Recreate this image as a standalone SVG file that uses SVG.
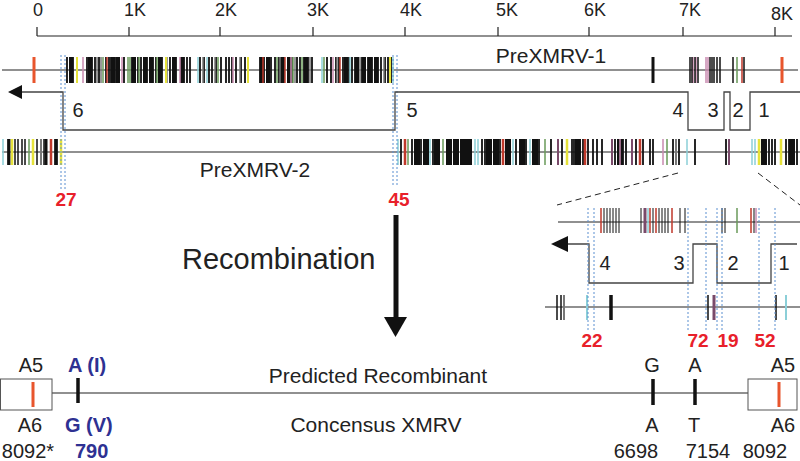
<svg xmlns="http://www.w3.org/2000/svg" width="800" height="461" viewBox="0 0 800 461">
<style>
text{font-family:"Liberation Sans",Arial,sans-serif;fill:#222}
.ax{font-size:18px;text-anchor:middle}
.nm{font-size:21px;text-anchor:middle}
.st{font-size:20px;text-anchor:middle}
.red{font-size:19px;font-weight:bold;fill:#e8202a;text-anchor:middle}
.blue{font-size:20px;font-weight:bold;fill:#2e3192}
.lo{font-size:20px;text-anchor:middle}
.ln{stroke:#222;stroke-width:1.2;fill:none}
.path{stroke:#444;stroke-width:1.3;fill:none}
.dot{stroke:#5b8fd0;stroke-width:1;stroke-dasharray:2 2;fill:none}
.dash{stroke:#222;stroke-width:1;stroke-dasharray:6 4;fill:none}
.k{stroke:#111;fill:none}
.g{stroke:#777;fill:none}
.gr{stroke:#6a9a5a;fill:none}
.pk{stroke:#c98bb0;fill:none}
.y{stroke:#e6e23a;fill:none}
.c{stroke:#8ccfd8;fill:none}
.r{stroke:#c0392b;fill:none}
.pu{stroke:#7a4a6a;fill:none}
.or{stroke:#e8552d;stroke-width:3;fill:none}
.box{stroke:#555;stroke-width:1;fill:none}
</style>

<g id="axis">
<path class="ln" d="M37 36H792M37 27V36M129 27V36M220 27V36M313 27V36M405 27V36M498 27V36M589 27V36M683 27V36M775 27V36"/>
<text class="ax" x="38" y="16">0</text>
<text class="ax" x="135" y="16">1K</text>
<text class="ax" x="226" y="16">2K</text>
<text class="ax" x="318" y="16">3K</text>
<text class="ax" x="411" y="16">4K</text>
<text class="ax" x="507" y="16">5K</text>
<text class="ax" x="595" y="16">6K</text>
<text class="ax" x="690" y="16">7K</text>
<text class="ax" x="782" y="20">8K</text>
</g>

<g id="prexmrv1">
<path class="ln" d="M2 70H798"/>
<path class="k" stroke-width="1.8" d="M67 57v26M70 57v26M73 57v26M87 57v26M90 57v26M92 57v26M95 57v26M99 57v26M106 57v26M109 57v26M111 57v26M114 57v26M116 57v26M119 57v26M124 57v26M132 57v26M135 57v26M138 57v26M141 57v26M144 57v26M147 57v26M150 57v26M153 57v26M156 57v26M159 57v26M162 57v26M170 57v26M173 57v26M176 57v26M184 57v26M187 57v26M190 57v26M200 57v26M204 57v26M209 57v26M212 57v26M216 57v26M221 57v26M226 57v26M229 57v26M232 57v26M236 57v26M241 57v26M245 57v26M260 57v26M264 57v26M267 57v26M271 57v26M275 57v26M279 57v26M284 57v26M288 57v26M292 57v26M297 57v26M300 57v26M304 57v26M308 57v26M312 57v26M327 57v26M331 57v26M336 57v26M339 57v26M343 57v26M346 57v26M349 57v26M352 57v26M355 57v26M358 57v26M362 57v26M365 57v26M368 57v26M372 57v26M375 57v26M378 57v26M381 57v26M385 57v26M388 57v26M391 57v26"/>
<path class="k" stroke-width="4" d="M71 57v26M90 57v26M113 57v26M118 57v26M134 57v26M145 57v26M151 57v26M160 57v26M174 57v26M182 57v26M262 57v26M268 57v26M282 57v26M289 57v26M306 57v26M346 57v26M357 57v26M364 57v26M370 57v26M376 57v26"/>
<path class="k" stroke-width="3" d="M653 57v26"/>
<path class="g" stroke-width="1.5" d="M97 57v26M101 57v26M167 57v26M203 57v26M215 57v26M240 57v26M280 57v26M295 57v26M310 57v26M337 57v26M360 57v26M384 57v26"/>
<path class="gr" stroke-width="1.5" d="M103 57v26M128 57v26M130 57v26M139 57v26M157 57v26M218 57v26M277 57v26M293 57v26M302 57v26M324 57v26M737 57v26"/>
<path class="pk" stroke-width="1.5" d="M83 57v26M122 57v26M180 57v26M233 57v26M291 57v26M333 57v26M693 57v26M696 57v26M706 57v26M708 57v26"/>
<path class="y" stroke-width="2" d="M77 57v26M166 57v26M248 57v26M390 57v26"/>
<path class="c" stroke-width="1.5" d="M198 57v26M207 57v26M322 57v26M350 57v26M393 57v26"/>
<path class="r" stroke-width="1.5" d="M107 57v26M263 57v26M285 57v26M340 57v26M742 57v26"/>
<path class="k" stroke-width="1.5" d="M690 57v26M692 57v26M695 57v26M698 57v26M710 57v26M712 57v26M714 57v26M717 57v26M720 57v26M733 57v26M744 57v26"/>
<path class="or" d="M34 57v26M782 57v26"/>
<text class="nm" x="551" y="63">PreXMRV-1</text>
</g>

<g id="prexmrv2">
<path class="ln" d="M2 152H800"/>
<path class="k" stroke-width="1.5" d="M8 139v26M15 139v26M18 139v26M22 139v26M25 139v26M37 139v26M44 139v26M55 139v26M57 139v26"/>
<path class="k" stroke-width="3" d="M9 139v26M46 139v26M56 139v26"/>
<path class="k" stroke-width="1.8" d="M401 139v26M412 139v26M415 139v26M418 139v26M421 139v26M424 139v26M427 139v26M433 139v26M436 139v26M439 139v26M482 139v26M485 139v26M488 139v26M491 139v26M494 139v26M497 139v26M500 139v26M506 139v26M509 139v26M516 139v26M520 139v26M523 139v26M526 139v26M533 139v26M536 139v26M539 139v26M551 139v26M562 139v26M572 139v26M574 139v26M577 139v26M580 139v26M583 139v26M588 139v26M593 139v26M597 139v26M602 139v26M615 139v26M618 139v26M623 139v26M626 139v26M636 139v26M643 139v26M650 139v26M653 139v26M673 139v26M679 139v26M695 139v26M726 139v26M763 139v26M766 139v26M769 139v26M772 139v26M775 139v26M786 139v26M789 139v26M793 139v26M797 139v26"/>
<path class="k" stroke-width="6" d="M417 139v26M426 139v26M437 139v26M449 139v26M456 139v26M463 139v26M469 139v26M489 139v26M496 139v26M508 139v26M522 139v26M535 139v26M578 139v26M620 139v26M764 139v26M792 139v26"/>
<path class="c" stroke-width="1.5" d="M3 139v26M398 139v26M430 139v26M475 139v26M478 139v26M513 139v26M530 139v26M687 139v26M752 139v26M755 139v26"/>
<path class="y" stroke-width="2.5" d="M12 139v26M33 139v26M61 139v26M567 139v26M759 139v26M781 139v26"/>
<path class="g" stroke-width="2" d="M41 139v26M676 139v26"/>
<path class="r" stroke-width="2.5" d="M51 139v26M405 139v26M503 139v26M585 139v26M640 139v26"/>
<path class="gr" stroke-width="1.5" d="M29 139v26M408 139v26M443 139v26M545 139v26M667 139v26"/>
<path class="pu" stroke-width="2" d="M558 139v26M612 139v26M632 139v26M729 139v26"/>
<path class="pk" stroke-width="1.5" d="M620 139v26M663 139v26"/>
<text class="nm" x="255" y="177">PreXMRV-2</text>
</g>

<g id="breakpoints">
<path class="dot" d="M61 55V190M65 55V190M393 55V187M397 55V187"/>
<text class="red" x="66" y="206">27</text>
<text class="red" x="399" y="206">45</text>
</g>

<g id="recombination-path">
<path class="path" d="M22 92H63V130H395V92H688V130H724V92H730V130H750V92H800"/>
<path d="M8 92L22 85V99z" fill="#111"/>
<text class="st" x="78" y="117">6</text>
<text class="st" x="412" y="117">5</text>
<text class="st" x="678" y="117">4</text>
<text class="st" x="713" y="117">3</text>
<text class="st" x="738" y="117">2</text>
<text class="st" x="764" y="117">1</text>
</g>

<g id="zoom-lines">
<path class="dash" d="M678 173L557 205M758 173L800 205"/>
</g>

<g id="inset">
<path class="ln" d="M558 222H800M545 307H800"/>
<path class="r" stroke-width="1.5" d="M601 208v25M650 208v25M656 208v25M672 208v25M751 208v25"/>
<path class="k" stroke-width="1" d="M604 208v25M607 208v25M610 208v25M613 208v25M616 208v25M619 208v25M641 208v25M653 208v25M659 208v25M662 208v25M665 208v25M668 208v25M680 208v25M685 208v25M722 208v25M725 208v25M754 208v25"/>
<path class="pu" stroke-width="3" d="M645 208v25"/>
<path class="c" stroke-width="1.5" d="M648 208v25"/>
<path class="gr" stroke-width="1.5" d="M737 208v25"/>
<path class="pk" stroke-width="1.5" d="M756 208v25"/>
<path class="k" stroke-width="1.5" d="M557 295v25M561 295v25M708 295v25M776 295v25"/>
<path class="g" stroke-width="2" d="M564 295v25"/>
<path class="c" stroke-width="2" d="M587 295v25M786 295v25"/>
<path class="k" stroke-width="3.5" d="M611 295v25"/>
<path class="pu" stroke-width="3" d="M714 295v25"/>
<path class="path" d="M568 244H589V283H693V244H717V283H771V244H797"/>
<path d="M551 244L568 236V252z" fill="#111"/>
<path class="dot" d="M588 208V330M594 208V330M688 208V330M706 208V330M717 208V330M722 208V330M759 208V330M775 208V330"/>
<text class="st" x="605" y="270">4</text>
<text class="st" x="679" y="270">3</text>
<text class="st" x="733" y="270">2</text>
<text class="st" x="784" y="270">1</text>
<text class="red" x="592" y="347">22</text>
<text class="red" x="698" y="347">72</text>
<text class="red" x="728" y="347">19</text>
<text class="red" x="765" y="347">52</text>
</g>

<g id="recombination-arrow">
<path d="M396 215V318" stroke="#111" stroke-width="5"/>
<path d="M384 317H407L395.5 337z" fill="#111"/>
<text x="182" y="269" style="font-size:29px">Recombination</text>
</g>

<g id="result">
<path class="ln" d="M52 393H748"/>
<rect class="box" x="0.5" y="379" width="51.5" height="31"/>
<rect class="box" x="748" y="379" width="49" height="31"/>
<path class="or" d="M33 382v25M779 382v25"/>
<path class="k" stroke-width="3.5" d="M78 378v25M653 379v26M695 379v26"/>
<text class="lo" x="31" y="372">A5</text>
<text class="blue" x="68" y="372">A (I)</text>
<text class="nm" x="378" y="383">Predicted Recombinant</text>
<text class="lo" x="652" y="372">G</text>
<text class="lo" x="695" y="372">A</text>
<text class="lo" x="783" y="372">A5</text>
<text class="lo" x="30" y="432">A6</text>
<text class="blue" x="65" y="432">G (V)</text>
<text class="nm" x="376" y="432">Concensus XMRV</text>
<text class="lo" x="652" y="432">A</text>
<text class="lo" x="694" y="432">T</text>
<text class="lo" x="783" y="432">A6</text>
<text class="lo" x="28" y="458">8092*</text>
<text class="blue" x="75" y="458">790</text>
<text class="lo" x="636" y="458">6698</text>
<text class="lo" x="708" y="458">7154</text>
<text class="lo" x="765" y="458">8092</text>
</g>
</svg>
